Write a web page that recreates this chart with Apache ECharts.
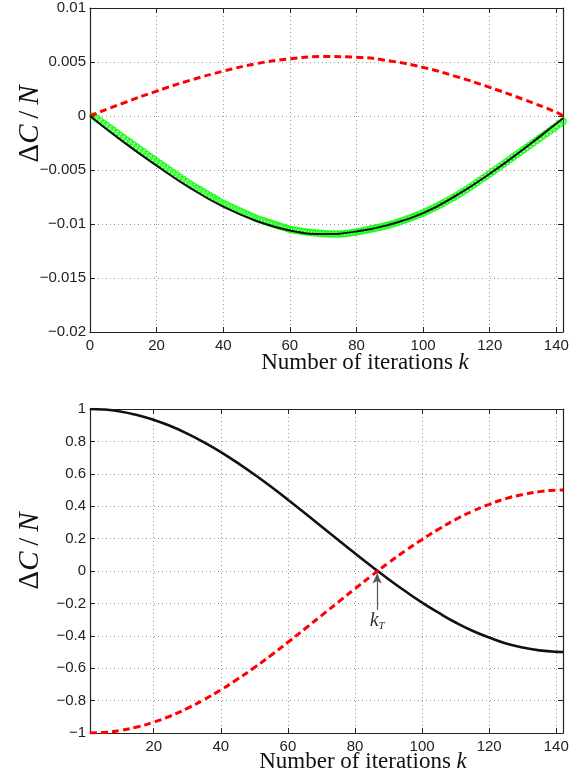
<!DOCTYPE html>
<html>
<head>
<meta charset="utf-8">
<script src="https://cdn.jsdelivr.net/npm/echarts@6/dist/echarts.min.js"></script>
<style>
  html, body { margin: 0; padding: 0; background: #fff; }
  #chart { width: 585px; height: 783px; }
</style>
</head>
<body>
<div id="chart"></div>
<script>
// upper panel: lines read every 10 iterations
const topK = [0, 10, 20, 30, 40, 50, 60, 70, 80, 90, 100, 110, 120, 130, 140, 142]
const topRed = [0, 0.0012, 0.0023, 0.0033, 0.00415, 0.00485, 0.0053, 0.0055, 0.00545, 0.0051, 0.0045, 0.00365, 0.00265, 0.00155, 0.00035, 0]
const topBlack = [0, -0.0024, -0.0046, -0.00665, -0.0084, -0.00972, -0.0106, -0.01092, -0.0107, -0.01005, -0.0090, -0.00735, -0.00535, -0.0031, -0.0007, -0.0002]
// green circles, one per iteration k = 1..142
const topGreen = [
  0, -0.00022, -0.00044, -0.00067, -0.00089, -0.00111, -0.00133, -0.00156, -0.00178, -0.00200,
  -0.00222, -0.00244, -0.00266, -0.00288, -0.00310, -0.00332, -0.00354, -0.00376, -0.00398, -0.00420,
  -0.00441, -0.00462, -0.00483, -0.00504, -0.00525, -0.00546, -0.00567, -0.00588, -0.00609, -0.00630,
  -0.00648, -0.00666, -0.00684, -0.00702, -0.00720, -0.00738, -0.00756, -0.00774, -0.00792, -0.00810,
  -0.00824, -0.00838, -0.00852, -0.00866, -0.00880, -0.00894, -0.00908, -0.00922, -0.00936, -0.00950,
  -0.00960, -0.00970, -0.00980, -0.00990, -0.01000, -0.01010, -0.01020, -0.01030, -0.01040, -0.01050,
  -0.01055, -0.01060, -0.01065, -0.01070, -0.01074, -0.01078, -0.01081, -0.01084, -0.01087, -0.01089,
  -0.01091, -0.01092, -0.01093, -0.01093, -0.01092, -0.01090, -0.01087, -0.01083, -0.01079, -0.01074,
  -0.01068, -0.01062, -0.01056, -0.01050, -0.01043, -0.01036, -0.01029, -0.01022, -0.01014, -0.01006,
  -0.00997, -0.00988, -0.00978, -0.00968, -0.00957, -0.00946, -0.00934, -0.00922, -0.00910, -0.00897,
  -0.00883, -0.00869, -0.00854, -0.00839, -0.00823, -0.00807, -0.00790, -0.00773, -0.00756, -0.00738,
  -0.00719, -0.00700, -0.00680, -0.00660, -0.00640, -0.00619, -0.00598, -0.00577, -0.00556, -0.00535,
  -0.00513, -0.00491, -0.00469, -0.00447, -0.00425, -0.00403, -0.00381, -0.00359, -0.00337, -0.00315,
  -0.00293, -0.00271, -0.00249, -0.00227, -0.00205, -0.00183, -0.00161, -0.00139, -0.00117, -0.00095,
  -0.00072, -0.00050
]
const topXTicks = [0, 20, 40, 60, 80, 100, 120, 140]

// lower panel, read every 5 iterations
const botK = [1, 5, 10, 15, 20, 25, 30, 35, 40, 45, 50, 55, 60, 65, 70, 75, 80, 85, 90, 95, 100, 105, 110, 115, 120, 125, 130, 135, 140, 142]
const botBlack = [1.0, 0.997, 0.985, 0.963, 0.933, 0.895, 0.848, 0.794, 0.734, 0.667, 0.596, 0.52, 0.44, 0.358, 0.275, 0.192, 0.109, 0.028, -0.051, -0.125, -0.195, -0.259, -0.318, -0.369, -0.411, -0.447, -0.472, -0.49, -0.499, -0.5]
const botRed = [-1.0, -0.997, -0.985, -0.963, -0.933, -0.895, -0.848, -0.794, -0.734, -0.667, -0.596, -0.52, -0.44, -0.358, -0.275, -0.192, -0.109, -0.028, 0.051, 0.125, 0.195, 0.259, 0.318, 0.369, 0.411, 0.447, 0.472, 0.49, 0.499, 0.5]
const botXTicks = [20, 40, 60, 80, 100, 120, 140]
const kT = 86.6

const zip = (xs, ys) => xs.map((x, i) => [x, ys[i]])
const minus = v => String(v).replace('-', '\u2212')

const axisColor = '#222'
const labelFont = { fontFamily: 'Liberation Sans, Arial, sans-serif', fontSize: 15, color: '#222' }
const gridLine = { show: true, lineStyle: { color: '#999', width: 1, type: [1, 3] } }
const tick = { show: true, inside: true, length: 5, lineStyle: { color: axisColor, width: 1 } }

function xAx(grid, min, max, ticks, main) {
  return {
    type: 'value', gridIndex: grid, min: min, max: max, position: main ? 'bottom' : 'top',
    axisLine: { show: true, onZero: false, lineStyle: { color: axisColor, width: 1.2 } },
    axisTick: Object.assign({ customValues: ticks }, tick),
    axisLabel: main ? Object.assign({ customValues: ticks, margin: 6, formatter: minus }, labelFont) : { show: false },
    splitLine: main ? gridLine : { show: false }
  }
}
function yAx(grid, min, max, step, main) {
  return {
    type: 'value', gridIndex: grid, min: min, max: max, interval: step, position: main ? 'left' : 'right',
    axisLine: { show: true, onZero: false, lineStyle: { color: axisColor, width: 1.2 } },
    axisTick: tick,
    axisLabel: main ? Object.assign({ margin: 4, formatter: minus }, labelFont) : { show: false },
    splitLine: main ? gridLine : { show: false }
  }
}

const serif = 'Liberation Serif, Times New Roman, serif'
const yName = {
  a: { fontFamily: serif, fontSize: 29, fill: '#111' },
  b: { fontFamily: serif, fontSize: 29, fontStyle: 'italic', fill: '#111' }
}
const xName = {
  a: { fontFamily: serif, fontSize: 23, fill: '#111' },
  b: { fontFamily: serif, fontSize: 23, fontStyle: 'italic', fill: '#111' }
}

const chart = echarts.init(document.getElementById('chart'))
chart.setOption({
  animation: false,
  backgroundColor: '#fff',
  grid: [
    { left: 90, top: 8, width: 473, height: 324 },
    { left: 90, top: 409, width: 473, height: 324 }
  ],
  xAxis: [
    xAx(0, 0, 142, topXTicks, true),
    xAx(0, 0, 142, topXTicks, false),
    xAx(1, 1, 142, botXTicks, true),
    xAx(1, 1, 142, botXTicks, false)
  ],
  yAxis: [
    yAx(0, -0.02, 0.01, 0.005, true),
    yAx(0, -0.02, 0.01, 0.005, false),
    yAx(1, -1, 1, 0.2, true),
    yAx(1, -1, 1, 0.2, false)
  ],
  graphic: [
    { type: 'text', x: 30, y: 124, rotation: Math.PI / 2,
      style: { text: '{a|Δ}{b|C}{a|\u2009/\u2009}{b|N}', rich: yName, align: 'center', verticalAlign: 'middle' } },
    { type: 'text', x: 30, y: 551, rotation: Math.PI / 2,
      style: { text: '{a|Δ}{b|C}{a|\u2009/\u2009}{b|N}', rich: yName, align: 'center', verticalAlign: 'middle' } },
    { type: 'text', x: 365, y: 363,
      style: { text: '{a|Number of iterations }{b|k}', rich: xName, align: 'center', verticalAlign: 'middle' } },
    { type: 'text', x: 363, y: 762,
      style: { text: '{a|Number of iterations }{b|k}', rich: xName, align: 'center', verticalAlign: 'middle' } }
  ],
  series: [
    {
      type: 'line', xAxisIndex: 0, yAxisIndex: 0, data: zip(topK, topRed), smooth: true,
      showSymbol: false, lineStyle: { color: '#ff0000', width: 3, type: [7, 4] }
    },
    {
      type: 'line', xAxisIndex: 0, yAxisIndex: 0, data: zip(topK, topBlack), smooth: true,
      showSymbol: false, lineStyle: { color: '#111', width: 2 }
    },
    {
      type: 'scatter', xAxisIndex: 0, yAxisIndex: 0,
      data: topGreen.map((v, i) => [i + 1, v]),
      symbol: 'circle', symbolSize: 6,
      itemStyle: { color: 'rgba(0,0,0,0)', borderColor: '#00ff00', borderWidth: 1.6 }
    },
    {
      type: 'line', xAxisIndex: 2, yAxisIndex: 2, data: zip(botK, botBlack), smooth: true,
      showSymbol: false, lineStyle: { color: '#111', width: 2.6 },
      markLine: {
        silent: true, symbolSize: [7, 10], label: { show: false },
        lineStyle: { color: '#555', width: 1.2, type: 'solid' },
        data: [[{ coord: [kT, -0.24], symbol: 'none' }, { coord: [kT, -0.015], symbol: 'arrow' }]]
      }
    },
    {
      type: 'line', xAxisIndex: 2, yAxisIndex: 2, data: zip(botK, botRed), smooth: true,
      showSymbol: false, lineStyle: { color: '#ff0000', width: 3, type: [7, 4] },
      markPoint: {
        silent: true, symbol: 'circle', symbolSize: 0,
        label: {
          show: true, position: 'inside', formatter: '{k|k}{t|T}',
          rich: {
            k: { fontFamily: serif, fontStyle: 'italic', fontSize: 20, color: '#333' },
            t: { fontFamily: serif, fontStyle: 'italic', fontSize: 11, color: '#333', padding: [10, 0, 0, 0] }
          }
        },
        data: [{ coord: [kT, -0.31] }]
      }
    }
  ]
})
</script>
</body>
</html>
